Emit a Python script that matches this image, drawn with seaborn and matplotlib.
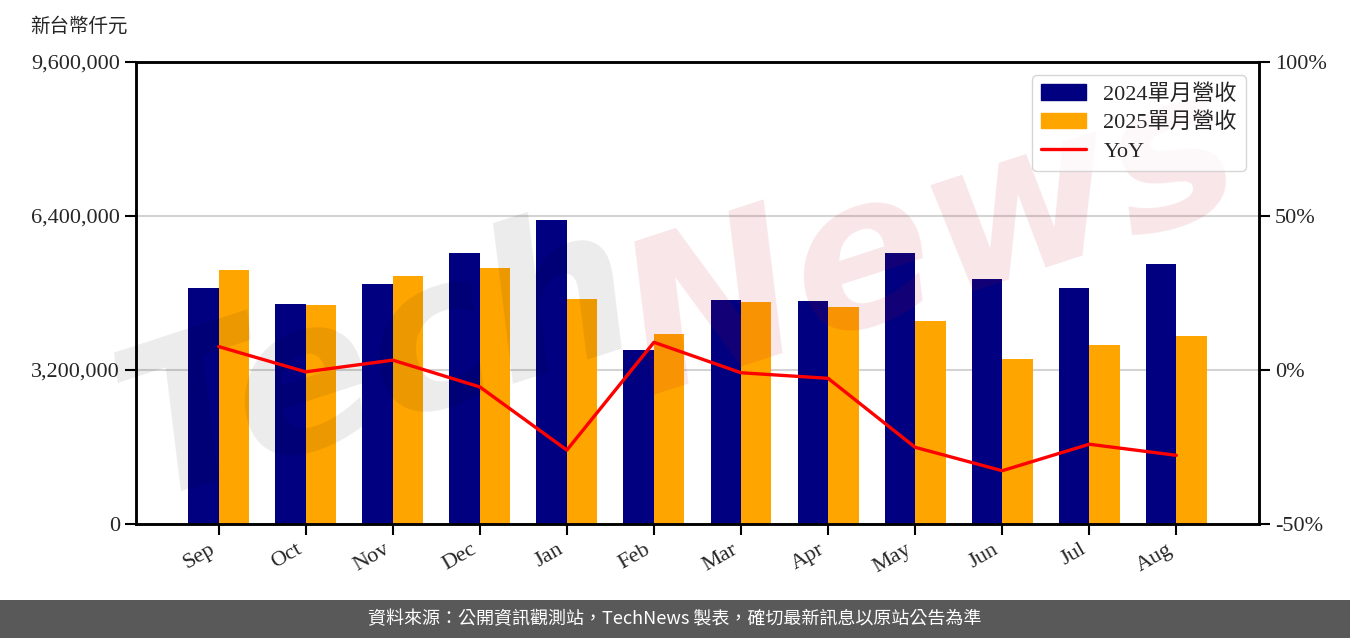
import numpy as np
import pandas as pd
import seaborn as sns
import matplotlib.pyplot as plt
from matplotlib.patches import Patch, Rectangle
from matplotlib.lines import Line2D
from matplotlib.ticker import FuncFormatter, MultipleLocator

months = ["Sep", "Oct", "Nov", "Dec", "Jan", "Feb", "Mar", "Apr", "May", "Jun", "Jul", "Aug"]
rev_2024 = [4904000, 4571000, 4987000, 5631000, 6317000, 3616000,
            4655000, 4634000, 5631000, 5091000, 4904000, 5403000]
rev_2025 = [5278000, 4551000, 5153000, 5320000, 4675000, 3948000,
            4613000, 4509000, 4218000, 3429000, 3719000, 3906000]
yoy = [7.6, -0.6, 3.2, -5.5, -26.0, 9.0, -0.9, -2.7, -25.1, -32.7, -24.1, -27.7]
series = ["2024單月營收", "2025單月營收"]

sns.set_style("white")
serif = ["Liberation Serif", "Noto Sans CJK TC"]
plt.rcParams["font.family"] = serif

df = pd.DataFrame({
    "month": months * 2,
    "revenue": rev_2024 + rev_2025,
    "series": [series[0]] * 12 + [series[1]] * 12,
})

fig = plt.figure(figsize=(13.5, 6.38), dpi=100)
ax = fig.add_axes([0.1007, 0.1787, 0.8319, 0.7241])

sns.barplot(data=df, x="month", y="revenue", hue="series", order=months,
            palette=["#000080", "#FFA500"], width=0.7, saturation=1,
            linewidth=0, legend=False, ax=ax, zorder=2)
ax.set_xlim(-0.95, 11.95)
ax.set_ylim(0, 9600000)
ax.yaxis.set_major_locator(MultipleLocator(3200000))
ax.yaxis.set_major_formatter(FuncFormatter(lambda v, p: f"{v:,.0f}"))
ax.grid(axis="y", color="#d3d3d3", linewidth=1.5, zorder=0)
ax.set_axisbelow(True)
ax.set_xlabel("")
ax.set_ylabel("")
ax.tick_params(axis="both", labelsize=16, length=8, width=1.5, color="black",
               direction="out", left=True, bottom=True)
plt.setp(ax.get_xticklabels(), rotation=30, ha="right", rotation_mode="default")
for s in ax.spines.values():
    s.set_color("black")
    s.set_linewidth(1.8)

ax2 = ax.twinx()
sns.lineplot(x=np.arange(len(months)), y=yoy, color="#FF0000", linewidth=2.4,
             ax=ax2, zorder=3)
ax2.set_ylim(-50, 100)
ax2.yaxis.set_major_locator(MultipleLocator(50))
ax2.yaxis.set_major_formatter(FuncFormatter(lambda v, p: f"{v:.0f}%"))
ax2.tick_params(axis="y", labelsize=16, length=8, width=1.5, color="black", right=True)
for s in ax2.spines.values():
    s.set_color("black")
    s.set_linewidth(1.8)

handles = [Patch(color="#000080", label=series[0]),
           Patch(color="#FFA500", label=series[1]),
           Line2D([0], [0], color="#FF0000", linewidth=2.4, label="YoY")]
leg = ax2.legend(handles=handles, loc="upper right", fontsize=16,
                 frameon=True, fancybox=True, borderaxespad=0.6,
                 labelspacing=0.35)
leg.get_frame().set_edgecolor("#cccccc")
leg.set_zorder(5)

ax.text(-0.094, 1.058, "新台幣仟元", transform=ax.transAxes, fontsize=14,
        ha="left", va="bottom", family=serif)

# watermark, under the YoY line
ax2.text(0.28, 0.43, "Tech", transform=fig.transFigure, fontsize=150,
         rotation=18, color="black", alpha=0.08, ha="center", va="center",
         fontstyle="italic", fontweight="bold", family="DejaVu Sans", zorder=1)
ax2.text(0.69, 0.62, "News", transform=fig.transFigure, fontsize=150,
         rotation=18, color="#c00020", alpha=0.1, ha="center", va="center",
         fontstyle="italic", fontweight="bold", family="DejaVu Sans", zorder=1)

fig.patches.append(Rectangle((0, 0), 1, 0.0596, transform=fig.transFigure,
                             facecolor="#595959", edgecolor="none", zorder=0))
fig.text(0.5, 0.0298, "資料來源：公開資訊觀測站，TechNews 製表，確切最新訊息以原站公告為準",
         color="white", fontsize=13, ha="center", va="center",
         family=["Noto Sans CJK TC", "DejaVu Sans"])

fig.savefig("out.png", dpi=100)
